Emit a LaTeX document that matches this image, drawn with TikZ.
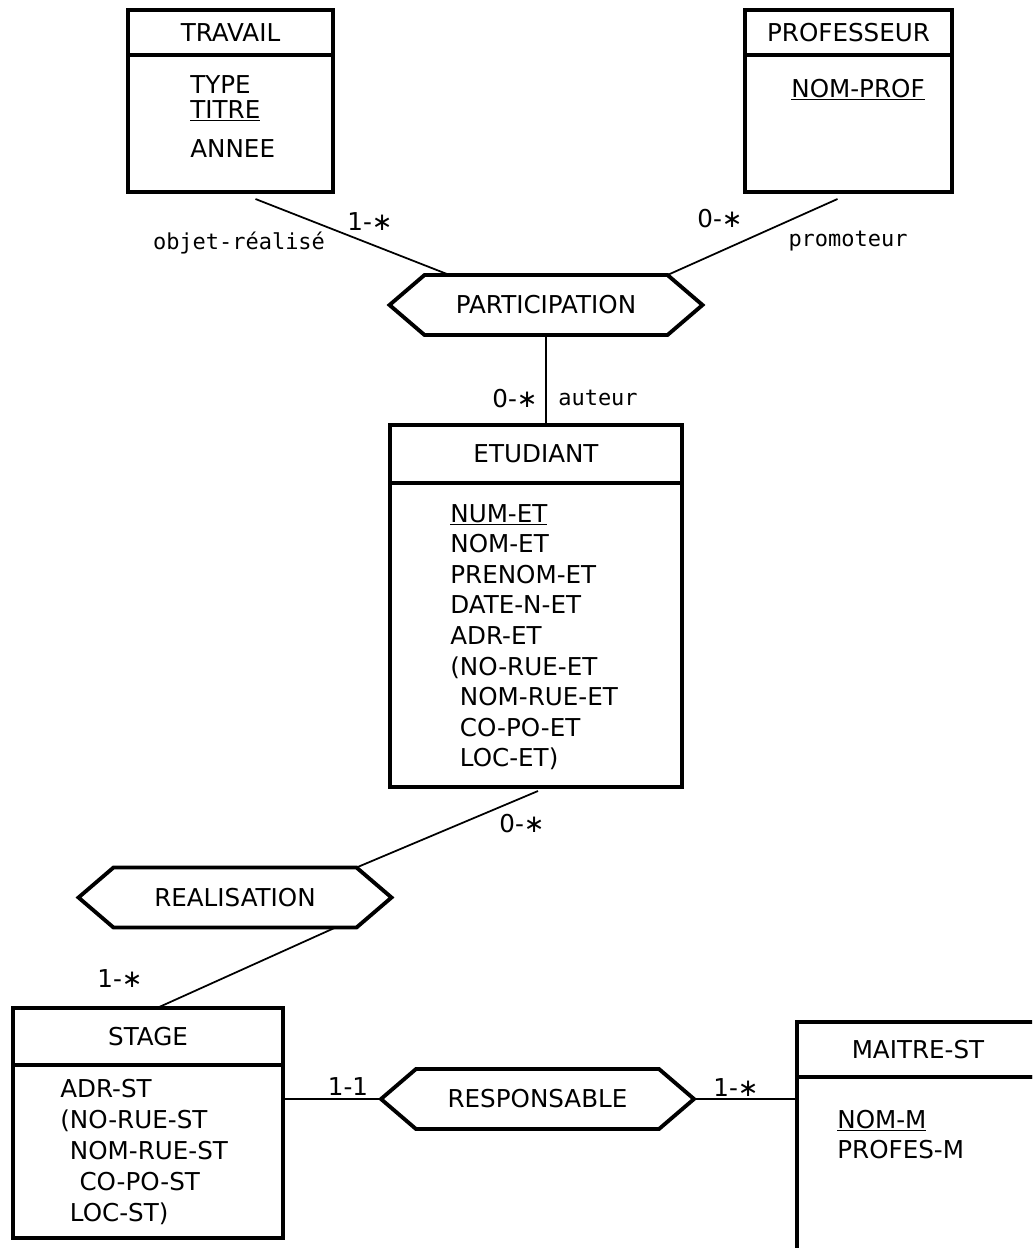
\documentclass[tikz,border=0pt]{standalone}
\usepackage{fontspec}
\setmainfont{DejaVu Sans}
\newfontfamily\rolefont{DejaVu Sans Mono}
\usetikzlibrary{positioning}

\def\u{0.02cm}
% hexagon round a relation node, with its two tips
\newcommand{\relborder}[1]{%
  \draw[line width=2.2pt, line join=miter] (#1.north west) -- (#1.north east)
    -- ([xshift=35*\u]#1.east) coordinate (#1-e) -- (#1.south east) -- (#1.south west)
    -- ([xshift=-35*\u]#1.west) coordinate (#1-w) -- cycle;}

\begin{document}
\begin{tikzpicture}[x=0.02cm, y=-0.02cm]
\tikzstyle{every node}=[font=\fontsize{14}{16}\selectfont]
\tikzstyle{entity}=[draw, line width=2pt, outer sep=0pt, inner sep=0pt]
\tikzstyle{attr}=[anchor=base west, inner sep=0pt]
\tikzstyle{relation}=[minimum width=243*\u, minimum height=60*\u, inner sep=0pt, outer sep=0pt]
\tikzstyle{link}=[line width=1pt]
\tikzstyle{card}=[anchor=base, inner sep=0pt]
\tikzstyle{role}=[anchor=base, inner sep=0pt, font=\rolefont\fontsize{12.5}{14}\selectfont]

\clip (0,0) rectangle (1032,1248);

% TRAVAIL
\node[entity, minimum width=205*\u, minimum height=45*\u] (trav) at (230.5,32.5) {TRAVAIL};
\node[entity, minimum width=205*\u, minimum height=137*\u, below=0pt of trav] (trav-b) {};
\node[attr] (trav-a1) at (190,93) {TYPE};
\node[attr] (trav-a2) at (190,118) {\underline{TITRE}};
\node[attr] (trav-a3) at (190,157) {ANNEE};

% PROFESSEUR
\node[entity, minimum width=207*\u, minimum height=45*\u] (prof) at (848.5,32.5) {PROFESSEUR};
\node[entity, minimum width=207*\u, minimum height=137*\u, below=0pt of prof] (prof-b) {};
\node[attr] (prof-a1) at (791,97) {\underline{NOM-PROF}};

% ETUDIANT
\node[entity, minimum width=292*\u, minimum height=58*\u] (etud) at (536,454) {ETUDIANT};
\node[entity, minimum width=292*\u, minimum height=304*\u, below=0pt of etud] (etud-b) {};
\foreach \a [count=\i from 0] in {{\underline{NUM-ET}}, NOM-ET, PRENOM-ET, DATE-N-ET, ADR-ET,
    {(NO-RUE-ET}, {\phantom{(}NOM-RUE-ET}, {\phantom{(}CO-PO-ET}, {\phantom{(}LOC-ET)}}
  \node[attr] (etud-a\i) at (450,522+30.6*\i) {\a};

% STAGE
\node[entity, minimum width=270*\u, minimum height=57*\u] (stage) at (148,1036.5) {STAGE};
\node[entity, minimum width=270*\u, minimum height=173*\u, below=0pt of stage] (stage-b) {};
\foreach \a [count=\i from 0] in {ADR-ST, {(NO-RUE-ST}, {\phantom{(}NOM-RUE-ST},
    {\phantom{((}CO-PO-ST}, {\phantom{(}LOC-ST)}}
  \node[attr] (stage-a\i) at (60,1097+31*\i) {\a};

% MAITRE-ST
\node[entity, minimum width=242*\u, minimum height=55*\u] (maitre) at (918,1049.5) {MAITRE-ST};
\node[entity, minimum width=242*\u, minimum height=250*\u, below=0pt of maitre] (maitre-b) {};
\node[attr] (maitre-a1) at (837,1128) {\underline{NOM-M}};
\node[attr] (maitre-a2) at (837,1158) {PROFES-M};

% relations
\node[relation] (part) at (546,305) {PARTICIPATION};
\relborder{part}
\node[relation] (real) at (235,897.5) {REALISATION};
\relborder{real}
\node[relation] (resp) at (537.5,1099) {RESPONSABLE};
\relborder{resp}

% links
\draw[link] ([shift={(25,7)}]trav-b.south) -- ([xshift=25*\u]part.north west);
\draw[link] ([shift={(-11,7)}]prof-b.south) -- (part.north east);
\draw[link] (part.south) -- (part.south |- etud.north);
\draw[link] ([shift={(2,4)}]etud-b.south) -- (real.north east);
\draw[link] ([xshift=-21*\u]real.south east) -- ([xshift=9*\u]stage.north);
\draw[link] (resp-w -| stage-b.east) -- (resp-w);
\draw[link] (resp-e) -- (resp-e -| maitre-b.west);

% cardinalities and roles
\node[card] (c-trav) at (370,230) {1-∗};
\node[role] (r-trav) at (239,249) {objet-réalisé};
\node[card] (c-prof) at (720,227) {0-∗};
\node[role] (r-prof) at (848,246) {promoteur};
\node[card] (c-etud) at (515,407) {0-∗};
\node[role] (r-etud) at (598,405) {auteur};
\node[card] (c-real) at (522,832) {0-∗};
\node[card] (c-stage) at (120,987) {1-∗};
\node[card] (c-resp) at (348,1095) {1-1};
\node[card] (c-maitre) at (736,1096) {1-∗};
\end{tikzpicture}
\end{document}
